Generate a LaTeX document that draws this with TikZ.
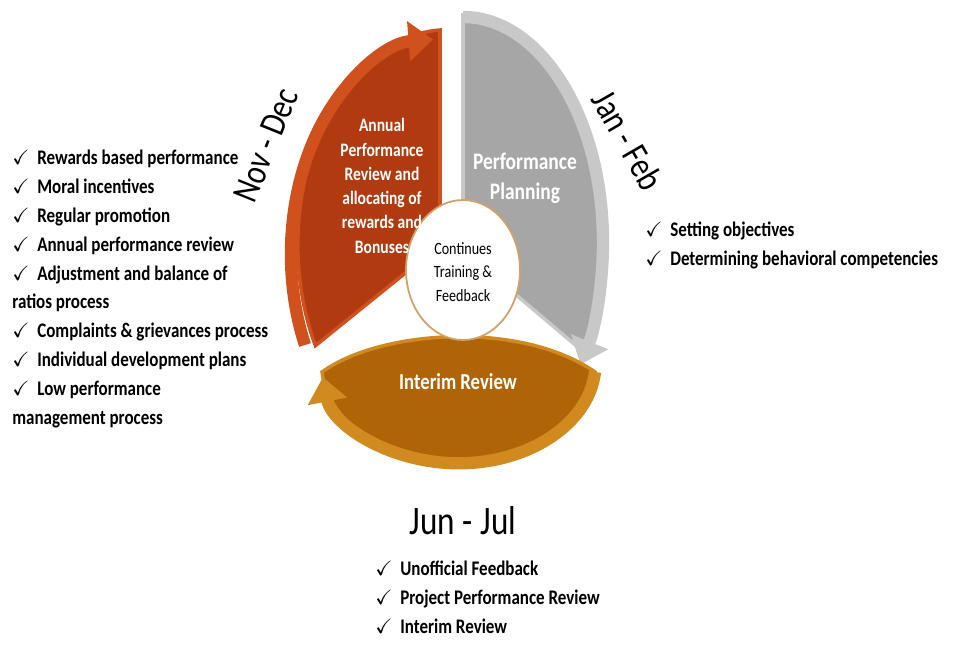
\documentclass[tikz,border=0pt]{standalone}
\usepackage{fontspec}
\setmainfont[FakeStretch=0.82]{Carlito}
\usepackage{amssymb}
\usetikzlibrary{arrows.meta,shapes.geometric}
\definecolor{redseg}{HTML}{B23A10}
\definecolor{redrim}{HTML}{D0501E}
\definecolor{grayseg}{HTML}{A6A6A6}
\definecolor{grayrim}{HTML}{C8C8C8}
\definecolor{orseg}{HTML}{B06408}
\definecolor{orrim}{HTML}{D08A20}
\tikzset{
 lst/.style={anchor=north west,align=left,font=\bfseries\fontsize{11.8}{16.4}\selectfont,inner sep=0pt},
 wt/.style={text=white,align=center,font=\bfseries},
 per/.style={font=\fontsize{21}{22}\selectfont}
}
\newcommand{\ck}{$\checkmark$\ \ }
\begin{document}
\begin{tikzpicture}[x=0.02cm,y=-0.02cm]
\useasboundingbox (0,0) rectangle (953,658);
% red wedge
\fill[redseg,draw=redrim,line width=2pt] (440,245) -- (440,30) arc[start angle=93,end angle=208,x radius=150,y radius=-215] -- cycle;
\draw[redrim,line width=7pt,-{Triangle[length=14pt,width=22pt]}] (305,345) arc[start angle=205,end angle=93,x radius=150,y radius=-215];
% gray wedge
\fill[grayseg,draw=grayrim,line width=2pt] (463,250) -- (463,15) arc[start angle=90,end angle=-30,x radius=140,y radius=-225] -- cycle;
\draw[grayrim,line width=7pt,-{Triangle[length=14pt,width=22pt]}] (463,17) arc[start angle=90,end angle=-33,x radius=140,y radius=-225];
% orange band
\fill[orseg,draw=orrim,line width=2pt] (595,372) arc[start angle=-5,end angle=-175,x radius=137,y radius=-100] .. controls (380,330) and (520,320) .. cycle;
\draw[orrim,line width=7pt,-{Triangle[length=14pt,width=22pt]}] (595,372) arc[start angle=-5,end angle=-172,x radius=137,y radius=-100];
% center
\node[draw=orseg!60,fill=white,ellipse,minimum width=2.28cm,minimum height=2.8cm,inner sep=0pt, line width=1pt] (c) at (463,270) {};
\node[align=center,font=\fontsize{9.8}{13.5}\selectfont] (ct) at (463,272) {Continues\\Training \&\\Feedback};
\node[wt,font=\bfseries\fontsize{10.8}{13.8}\selectfont] (a) at (382,186) {Annual\\Performance\\Review and\\allocating of\\rewards and\\Bonuses};
\node[wt,font=\bfseries\fontsize{13.5}{17}\selectfont] (p) at (525,178) {Performance\\Planning};
\node[wt,font=\bfseries\fontsize{13}{15}\selectfont] (i) at (458,382) {Interim Review};
\node[per,rotate=68] (nd) at (266,145) {Nov - Dec};
\node[per,rotate=-60] (jf) at (628,140) {Jan - Feb};
\node[per,font=\fontsize{23}{24}\selectfont] (jj) at (463,521) {Jun - Jul};
\node[lst] (l1) at (12,150) {\ck Rewards based performance\\\ck Moral incentives\\\ck Regular promotion\\\ck Annual performance review\\\ck Adjustment and balance of\\ratios process\\\ck Complaints \& grievances process\\\ck Individual development plans\\\ck Low performance\\management process};
\node[lst] (l2) at (645,222) {\ck Setting objectives\\\ck Determining behavioral competencies};
\node[lst] (l3) at (375,561) {\ck Unofficial Feedback\\\ck Project Performance Review\\\ck Interim Review};
\end{tikzpicture}
\end{document}
